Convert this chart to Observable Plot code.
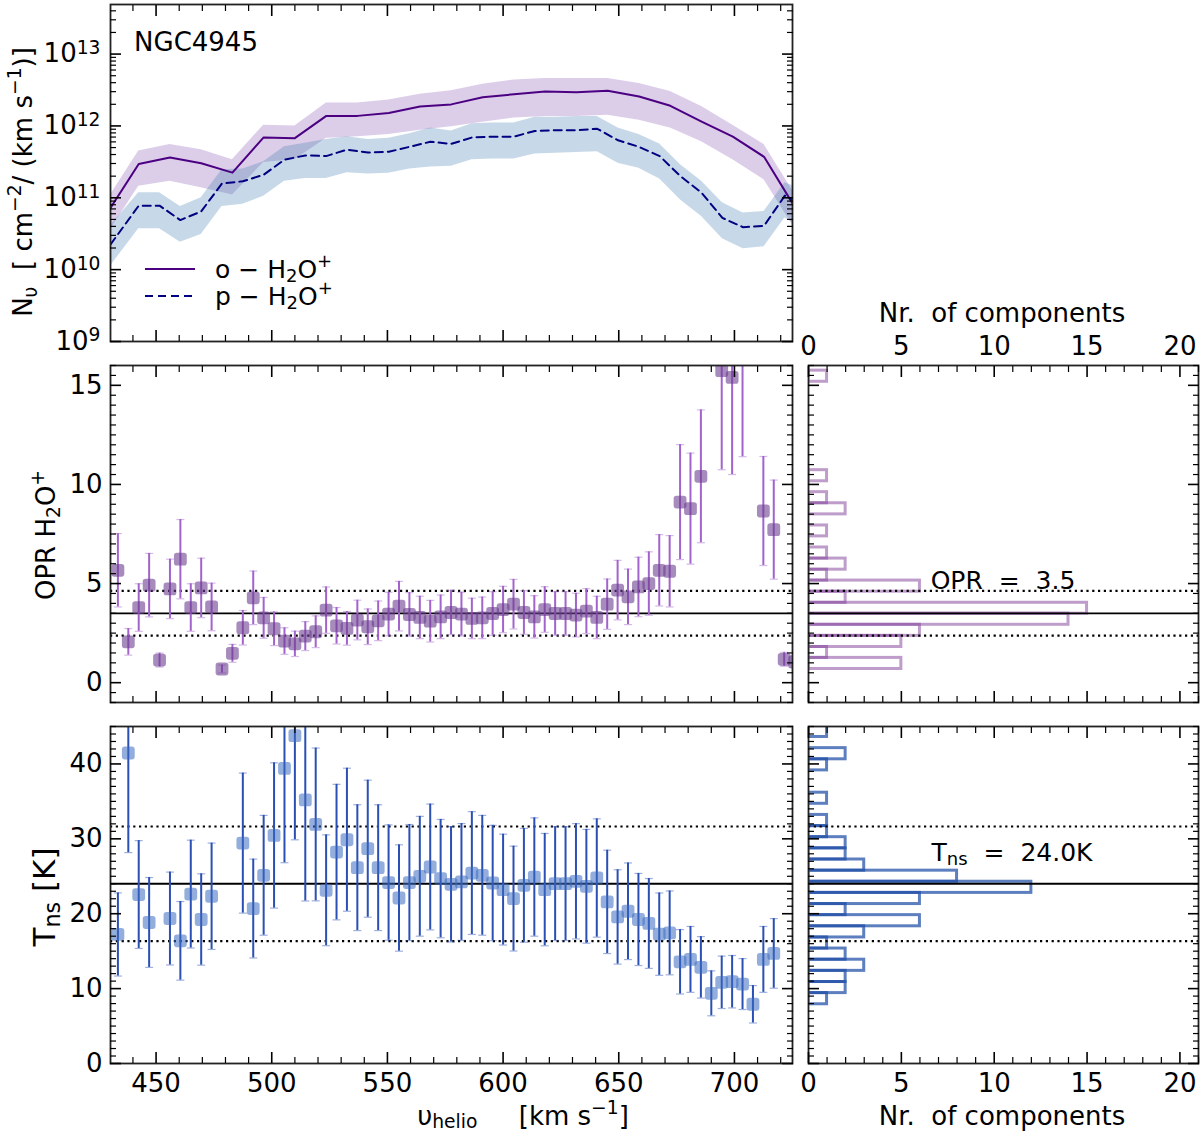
<!DOCTYPE html>
<html>
<head>
<meta charset="utf-8">
<script src="https://cdn.jsdelivr.net/npm/d3@7"></script>
<script src="https://cdn.jsdelivr.net/npm/@observablehq/plot@0.6"></script>
<style>
  html, body { margin: 0; padding: 0; background: white; overflow: hidden; }
  #fig { position: relative; width: 1200px; height: 1137px; overflow: hidden; font-family: "DejaVu Sans", sans-serif; color: black; }
  .panel { position: absolute; }
  .panel svg { max-width: none; display: block; }
  .lbl { position: absolute; white-space: nowrap; line-height: 1; transform: translate(-50%, -50%); }
  .rot { transform: translate(-50%, -50%) rotate(-90deg); }
  .sb { font-size: 72%; vertical-align: -0.25em; line-height: 0; }
  .sp { font-size: 72%; vertical-align: 0.6em; line-height: 0; }
</style>
</head>
<body>
<div id="fig"></div>
<script>
// channel velocities (km/s) shared by the OPR and Tns panels
const chanV = [433.5,438.0,442.5,447.0,451.5,456.0,460.5,465.0,469.5,474.0,
  478.5,483.0,487.5,492.0,496.5,501.0,505.5,510.0,514.5,519.0,
  523.5,528.0,532.5,537.0,541.5,546.0,550.5,555.0,559.5,564.0,
  568.5,573.0,577.5,582.0,586.5,591.0,595.5,600.0,604.5,609.0,
  613.5,618.0,622.5,627.0,631.5,636.0,640.5,645.0,649.5,654.0,
  658.5,663.0,667.5,672.0,676.5,681.0,685.5,690.0,694.5,699.0,
  703.5,708.0,712.5,717.0,721.5,726.0];

const opr = [5.67,2.06,3.79,4.92,1.14,4.73,6.23,3.79,4.78,3.82,
  0.69,1.48,2.77,4.28,3.27,2.72,2.10,1.96,2.35,2.57,
  3.66,2.87,2.74,3.16,2.82,3.12,3.46,3.86,3.44,3.29,
  3.10,3.32,3.54,3.46,3.24,3.27,3.49,3.69,3.96,3.54,
  3.32,3.69,3.49,3.49,3.41,3.61,3.29,3.96,4.67,4.33,
  4.83,5.00,5.67,5.62,9.11,8.78,10.41,null,15.74,15.40,
  17.2,null,8.66,7.72,1.18,1.05];
const oprErr = [1.85,0.67,1.20,1.60,0.35,1.50,2.00,1.20,1.50,1.20,
  0.20,0.45,0.87,1.35,1.03,0.85,0.67,0.64,0.73,0.80,
  1.17,0.92,0.85,1.00,0.90,1.00,1.10,1.25,1.10,1.07,
  1.05,1.10,1.12,1.10,1.02,1.05,1.10,1.17,1.25,1.10,
  1.07,1.15,1.10,1.10,1.10,1.13,1.07,1.27,1.50,1.40,
  1.50,1.60,1.80,1.80,2.90,2.80,3.35,null,5.00,4.90,
  5.80,null,2.75,2.50,0.35,0.30];

const tns = [17.23,41.46,22.56,18.83,null,19.36,16.38,22.62,19.23,22.33,
  null,null,29.43,20.69,25.13,30.45,39.41,43.77,35.20,31.92,
  23.13,28.23,29.88,26.15,28.68,26.15,24.16,22.10,24.16,25.00,
  26.24,24.69,23.93,24.24,25.43,25.13,24.10,23.22,22.02,23.79,
  24.90,23.22,24.02,24.02,24.33,23.66,24.77,21.58,19.57,20.33,
  19.23,18.70,17.27,17.44,13.58,13.90,12.84,9.37,10.84,10.92,
  10.61,7.91,13.90,14.70,null,null];
const tnsErr = [5.55,13.3,7.20,6.00,null,6.20,5.25,7.20,6.10,7.10,
  null,null,9.35,6.60,8.00,9.70,12.6,13.9,13.5,10.2,
  7.40,9.05,9.55,8.40,9.15,8.40,7.70,7.10,7.75,8.00,
  8.40,7.90,7.70,7.80,8.20,8.00,7.70,7.40,7.00,7.60,
  7.90,7.50,7.60,7.60,7.70,7.60,7.90,6.90,6.30,6.45,
  6.15,6.00,5.50,5.60,4.30,4.40,4.10,3.00,3.50,3.50,
  3.40,2.50,4.40,4.65,null,null];

// column densities, log10 N (cm^-2 / km s^-1)
const oVel = [428.9,442.5,456.0,469.5,483.0,496.5,510.0,523.6,537.1,550.6,564.1,577.6,
  591.2,604.7,618.2,631.7,645.2,658.8,672.3,685.8,699.3,712.8,726.3];
const oLogN = [10.79,11.47,11.56,11.48,11.35,11.84,11.83,12.14,12.14,12.18,12.27,12.30,
  12.40,12.44,12.48,12.47,12.49,12.41,12.28,12.06,11.85,11.57,10.86];
const oLogHi = [10.97,11.65,11.74,11.67,11.53,12.01,12.00,12.32,12.32,12.36,12.44,12.49,
  12.58,12.64,12.66,12.66,12.66,12.59,12.48,12.27,12.01,11.74,11.04];
const oLogLo = [10.49,11.16,11.23,11.14,11.04,11.49,11.53,11.83,11.85,11.88,11.94,11.99,
  12.05,12.11,12.13,12.13,12.15,12.08,11.97,11.78,11.53,11.25,10.56];

const pVel = [430.3,442.5,451.5,460.5,469.5,478.5,487.5,496.5,505.5,514.5,523.5,532.6,
  541.6,550.6,559.6,568.6,577.6,586.6,595.6,604.6,613.7,622.7,631.7,640.7,649.7,658.7,
  667.7,676.7,685.8,694.8,703.8,712.8,721.8,725.1];
const pLogN = [10.35,10.89,10.89,10.69,10.81,11.20,11.23,11.32,11.53,11.59,11.58,11.67,
  11.63,11.64,11.71,11.78,11.75,11.84,11.85,11.85,11.93,11.94,11.94,11.96,11.80,11.71,
  11.58,11.30,11.07,10.72,10.59,10.61,11.03,10.97];
const pLogHi = [10.61,11.07,11.07,10.88,11.00,11.39,11.40,11.50,11.71,11.76,11.81,11.85,
  11.81,11.83,11.89,11.97,11.93,12.03,12.04,12.04,12.12,12.12,12.13,12.13,11.97,11.88,
  11.75,11.46,11.23,10.93,10.79,10.81,11.21,11.17];
const pLogLo = [10.05,10.57,10.57,10.38,10.49,10.88,10.91,11.02,11.23,11.27,11.27,11.35,
  11.33,11.34,11.40,11.43,11.44,11.53,11.54,11.54,11.61,11.62,11.63,11.64,11.48,11.41,
  11.26,10.97,10.74,10.43,10.29,10.32,10.72,10.66];

// histograms (bin edges and counts)
const oprEdges = [0.69,1.25,1.80,2.36,2.92,3.48,4.03,4.59,5.15,5.70,6.26,6.82,7.38,7.93,
  8.49,9.05,9.61,10.16,10.72,11.28,11.84,12.39,12.95,13.51,14.07,14.62,15.18,15.74];
const oprCounts = [5,1,5,6,14,15,2,6,1,2,1,0,1,0,2,1,0,1,0,0,0,0,0,0,0,0,1];
const tnsEdges = [7.91,9.40,10.88,12.37,13.86,15.35,16.83,18.32,19.81,21.29,22.78,24.27,
  25.75,27.24,28.73,30.22,31.70,33.19,34.68,36.16,37.65,39.14,40.62,42.11,43.60,45.09];
const tnsCounts = [1,2,2,3,2,1,3,6,2,6,12,8,3,2,2,1,1,0,1,0,0,1,2,0,1];

const oprMean = 3.5, oprBand = [2.37, 4.63];
const tnsMean = 24.0, tnsBand = [16.35, 31.65];

const vTicks = [450, 500, 550, 600, 650, 700];
const nTicks = [0, 5, 10, 15, 20];

// ---------------------------------------------------------------
const purple = "#4b0082", navy = "#000080";
const fig = d3.select("#fig");
const M = 70;
const style = {background: "transparent", fontFamily: "DejaVu Sans", fontSize: "26px", color: "black", overflow: "visible"};

function panel(fx, fy, fw, fh, opts) {
  const chart = Plot.plot({width: fw + 2 * M, height: fh + 2 * M, margin: M, style, ...opts});
  fig.append("div").attr("class", "panel")
    .style("left", `${fx - M}px`).style("top", `${fy - M}px`)
    .style("width", `${fw + 2 * M}px`).style("height", `${fh + 2 * M}px`)
    .node().appendChild(chart);
  return chart;
}

function inTicks(xMaj, xMin, yMaj, yMin) {
  const t = [];
  for (const a of ["top", "bottom"]) {
    t.push(Plot.axisX(xMaj, {anchor: a, tickSize: -11, fill: "none", strokeWidth: 1.6, label: null}));
    t.push(Plot.axisX(xMin, {anchor: a, tickSize: -6, fill: "none", strokeWidth: 1.2, label: null}));
  }
  for (const a of ["left", "right"]) {
    t.push(Plot.axisY(yMaj, {anchor: a, tickSize: -11, fill: "none", strokeWidth: 1.6, label: null}));
    t.push(Plot.axisY(yMin, {anchor: a, tickSize: -6, fill: "none", strokeWidth: 1.2, label: null}));
  }
  return t;
}

const range = (a, b, s) => d3.range(a, b + s / 2, s).map(v => +v.toFixed(3));
const vMinor = range(440, 720, 10).filter(v => v % 50);
const nMinor = range(1, 21, 1).filter(v => v % 5);

const roundSquare = {draw(ctx, size) {
  const h = Math.sqrt(size / Math.PI), c = h * 0.45;
  ctx.moveTo(-h + c, -h); ctx.lineTo(h - c, -h); ctx.arcTo(h, -h, h, -h + c, c);
  ctx.lineTo(h, h - c); ctx.arcTo(h, h, h - c, h, c);
  ctx.lineTo(-h + c, h); ctx.arcTo(-h, h, -h, h - c, c);
  ctx.lineTo(-h, -h + c); ctx.arcTo(-h, -h, -h + c, -h, c); ctx.closePath();
}};
const capSymbol = {draw(ctx, size) {
  const h = Math.sqrt(size / Math.PI);
  ctx.moveTo(-h, 0); ctx.lineTo(h, 0);
}};

const frameL = 109.5, frameW = 682, frameR = 807.5, frameRW = 390, frameH = 337;
const rowY = [4, 365, 726];
const xDomain = [430.3, 725.1];

// ---------- top panel: column densities
const logMaj = [1e9, 1e10, 1e11, 1e12, 1e13];
const logMin = [];
for (let k = 9; k <= 13; k++) for (let m = 2; m <= 9; m++) if (m * 10 ** k < 10 ** 13.69) logMin.push(m * 10 ** k);

const oRows = oVel.map((v, i) => ({v, y: 10 ** oLogN[i], lo: 10 ** oLogLo[i], hi: 10 ** oLogHi[i]}));
const pRows = pVel.map((v, i) => ({v, y: 10 ** pLogN[i], lo: 10 ** pLogLo[i], hi: 10 ** pLogHi[i]}));

const topChart = panel(frameL, rowY[0], frameW, frameH, {
  x: {domain: xDomain},
  y: {type: "log", domain: [1e9, 10 ** 13.69]},
  marks: [
    Plot.areaY(oRows, {x: "v", y1: "lo", y2: "hi", fill: "#9467bd", fillOpacity: 0.33, clip: true}),
    Plot.areaY(pRows, {x: "v", y1: "lo", y2: "hi", fill: "steelblue", fillOpacity: 0.3, clip: true}),
    Plot.lineY(oRows, {x: "v", y: "y", stroke: purple, strokeWidth: 2, clip: true}),
    Plot.lineY(pRows, {x: "v", y: "y", stroke: navy, strokeWidth: 2, strokeDasharray: "8,5", clip: true}),
    Plot.frame({stroke: "#222", strokeWidth: 1.8}),
    ...inTicks(vTicks, vMinor, logMaj, logMin),
    Plot.axisY(logMaj, {anchor: "left", tickSize: 0, tickPadding: 10, label: null,
      tickFormat: d => "10^" + Math.round(Math.log10(d))})
  ]
});
// power-of-ten labels: raise the exponent
d3.select(topChart).selectAll('g[aria-label="y-axis tick label"] text').each(function () {
  const [base, exp] = this.textContent.split("^");
  const t = d3.select(this).text(null);
  t.append("tspan").text(base);
  t.append("tspan").attr("dy", "-0.45em").attr("font-size", "0.72em").text(exp);
});

// ---------- helpers for the point panels
function pointMarks(rows, barColor, dotColor, dotOpacity) {
  const caps = rows.flatMap(d => [{v: d.v, y: d.y - d.e}, {v: d.v, y: d.y + d.e}]);
  return [
    Plot.ruleX(rows, {x: "v", y1: d => d.y - d.e, y2: d => d.y + d.e, stroke: barColor, strokeWidth: 2, clip: true}),
    Plot.dot(caps, {x: "v", y: "y", symbol: capSymbol, r: 4, fill: "none", stroke: barColor, strokeOpacity: 0.45, strokeWidth: 1.2, clip: true}),
    Plot.dot(rows, {x: "v", y: "y", symbol: roundSquare, r: 6.4, fill: dotColor, fillOpacity: dotOpacity, stroke: "none", clip: true})
  ];
}
function statMarks(mean, band) {
  return [
    Plot.ruleY(band, {stroke: "black", strokeWidth: 2.2, strokeDasharray: "2.2,3.6"}),
    Plot.ruleY([mean], {stroke: "black", strokeWidth: 1.8})
  ];
}

// ---------- middle row: OPR
const oprRows = chanV.map((v, i) => ({v, y: opr[i], e: oprErr[i]})).filter(d => d.y != null);
const oprMaj = [0, 5, 10, 15], oprMin = range(-1, 16, 0.5).filter(v => v % 5);

panel(frameL, rowY[1], frameW, frameH, {
  x: {domain: xDomain},
  y: {domain: [-1, 16]},
  marks: [
    ...statMarks(oprMean, oprBand),
    ...pointMarks(oprRows, "#a263cc", "#6a3d8f", 0.6),
    Plot.frame({stroke: "#222", strokeWidth: 1.8}),
    ...inTicks(vTicks, vMinor, oprMaj, oprMin),
    Plot.axisY(oprMaj, {anchor: "left", tickSize: 0, tickPadding: 8, label: null})
  ]
});

const oprBins = oprCounts.map((n, i) => ({lo: oprEdges[i], hi: oprEdges[i + 1], n})).filter(d => d.n > 0);
panel(frameR, rowY[1], frameRW, frameH, {
  x: {domain: [0, 21]},
  y: {domain: [-1, 16]},
  marks: [
    Plot.rect(oprBins, {x1: 0, x2: "n", y1: "lo", y2: "hi", fill: "none", stroke: "#7d3c98", strokeOpacity: 0.5, strokeWidth: 3, clip: true}),
    ...statMarks(oprMean, oprBand),
    Plot.frame({stroke: "#222", strokeWidth: 1.8}),
    ...inTicks(nTicks, nMinor, oprMaj, oprMin),
    Plot.axisX(nTicks, {anchor: "top", tickSize: 0, tickPadding: 11, label: null})
  ]
});

// ---------- bottom row: Tns
const tnsRows = chanV.map((v, i) => ({v, y: tns[i], e: tnsErr[i]})).filter(d => d.y != null);
const tnsMaj = [0, 10, 20, 30, 40], tnsMin = range(1, 45, 1).filter(v => v % 10);

panel(frameL, rowY[2], frameW, frameH, {
  x: {domain: xDomain},
  y: {domain: [0, 45]},
  marks: [
    ...statMarks(tnsMean, tnsBand),
    ...pointMarks(tnsRows, "#2a4fb5", "#3a6bbf", 0.55),
    Plot.frame({stroke: "#222", strokeWidth: 1.8}),
    ...inTicks(vTicks, vMinor, tnsMaj, tnsMin),
    Plot.axisY(tnsMaj, {anchor: "left", tickSize: 0, tickPadding: 8, label: null}),
    Plot.axisX(vTicks, {anchor: "bottom", tickSize: 0, tickPadding: 10, label: null})
  ]
});

const tnsBins = tnsCounts.map((n, i) => ({lo: tnsEdges[i], hi: tnsEdges[i + 1], n})).filter(d => d.n > 0);
panel(frameR, rowY[2], frameRW, frameH, {
  x: {domain: [0, 21]},
  y: {domain: [0, 45]},
  marks: [
    Plot.rect(tnsBins, {x1: 0, x2: "n", y1: "lo", y2: "hi", fill: "none", stroke: "#1f4ea6", strokeOpacity: 0.72, strokeWidth: 3, clip: true}),
    ...statMarks(tnsMean, tnsBand),
    Plot.frame({stroke: "#222", strokeWidth: 1.8}),
    ...inTicks(nTicks, nMinor, tnsMaj, tnsMin),
    Plot.axisX(nTicks, {anchor: "bottom", tickSize: 0, tickPadding: 10, label: null})
  ]
});

// ---------- text labels
function label(html, cx, cy, size, rotate) {
  fig.append("div").attr("class", rotate ? "lbl rot" : "lbl")
    .style("left", `${cx}px`).style("top", `${cy}px`).style("font-size", `${size}px`)
    .html(html);
}
const sb = t => `<span class="sb">${t}</span>`;
const sp = t => `<span class="sp">${t}</span>`;

label("NGC4945", 196, 42, 26);
label(`N${sb("υ")}&nbsp; [ cm${sp("−2")}/ (km s${sp("−1")})]`, 23, 182, 26, true);
label(`OPR H${sb("2")}O${sp("+")}`, 46, 535, 26, true);
label(`T${sb("ns")} [K]`, 44, 897, 31, true);
label(`υ<span class="sb" style="vertical-align:-0.15em">helio</span>&nbsp;&nbsp;&nbsp;&nbsp; [km s${sp("−1")}]`, 523, 1116, 26);
label("Nr.&nbsp; of components", 1002, 313, 26);
label("Nr.&nbsp; of components", 1002, 1116, 26);
label(`OPR&nbsp; = &nbsp;${oprMean.toFixed(1)}`, 1003, 580, 25);
label(`T${sb("ns")}&nbsp; = &nbsp;${tnsMean.toFixed(1)}K`, 1012, 852, 25);

// legend
const leg = fig.append("svg").attr("width", 60).attr("height", 50)
  .style("position", "absolute").style("left", "140px").style("top", "255px");
leg.append("line").attr("x1", 5).attr("x2", 55).attr("y1", 14).attr("y2", 14)
  .attr("stroke", purple).attr("stroke-width", 2);
leg.append("line").attr("x1", 5).attr("x2", 55).attr("y1", 41).attr("y2", 41)
  .attr("stroke", navy).attr("stroke-width", 2).attr("stroke-dasharray", "8,5");
fig.append("div").attr("class", "lbl").style("left", "215px").style("top", "269px")
  .style("font-size", "25px").style("transform", "translate(0,-50%)")
  .html(`o − H${sb("2")}O${sp("+")}`);
fig.append("div").attr("class", "lbl").style("left", "215px").style("top", "296px")
  .style("font-size", "25px").style("transform", "translate(0,-50%)")
  .html(`p − H${sb("2")}O${sp("+")}`);
</script>
</body>
</html>
